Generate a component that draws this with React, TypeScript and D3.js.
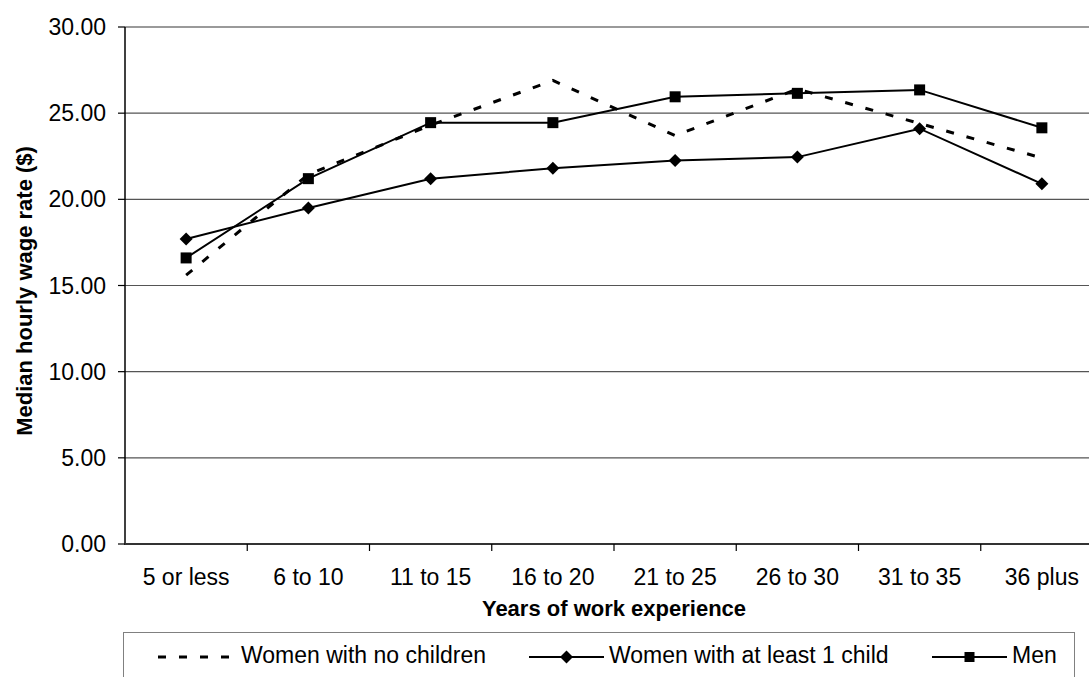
import React from "react";
import * as d3 from "d3";

const categories = ["5 or less", "6 to 10", "11 to 15", "16 to 20", "21 to 25", "26 to 30", "31 to 35", "36 plus"];
const noChildren = [15.6, 21.45, 24.3, 26.9, 23.7, 26.4, 24.4, 22.4];
const atLeastOneChild = [17.7, 19.5, 21.2, 21.8, 22.25, 22.45, 24.1, 20.9];
const men = [16.6, 21.2, 24.45, 24.45, 25.95, 26.15, 26.35, 24.15];
const yTicks = [0, 5, 10, 15, 20, 25, 30];

const W = 1089;
const H = 677;
const FONT = "'Liberation Sans', Arial, sans-serif";

const App: React.FC = () => {
  // plot area (right side runs past the picture edge)
  const left = 125;
  const right = 1103;
  const top = 27;
  const bottom = 544;

  const x = d3.scalePoint<string>().domain(categories).range([left, right]).padding(0.5);
  const band = (right - left) / categories.length;
  const y = d3.scaleLinear().domain([0, 30]).range([bottom, top]);

  const line = d3
    .line<number>()
    .x((_, i) => x(categories[i]) as number)
    .y(d => y(d));

  const diamond = (cx: number, cy: number, r: number) =>
    `M${cx},${cy - r}L${cx + r},${cy}L${cx},${cy + r}L${cx - r},${cy}Z`;

  // legend layout
  const legY = 657;
  const keyLen = 75;

  return (
    <svg width={W} height={H} style={{ position: "absolute", left: 0, top: 0, background: "#fff" }} fontFamily={FONT}>
      {/* gridlines */}
      {yTicks.filter(t => t > 0).map(t => (
        <line key={t} x1={left} x2={right} y1={y(t)} y2={y(t)} stroke={t === 30 ? "#9a9a9a" : "#555"} strokeWidth={t === 30 ? 2 : 1.2} />
      ))}
      {/* y axis */}
      <line x1={left} x2={left} y1={top} y2={bottom + 1} stroke="#000" strokeWidth={1.5} />
      {yTicks.map(t => (
        <g key={t}>
          <line x1={left - 7} x2={left} y1={y(t)} y2={y(t)} stroke="#000" strokeWidth={1.2} />
          <text x={106} y={y(t)} dy="0.35em" textAnchor="end" fontSize={23} fill="#000">
            {t.toFixed(2)}
          </text>
        </g>
      ))}
      {/* x axis */}
      <line x1={left} x2={right} y1={bottom} y2={bottom} stroke="#333" strokeWidth={2} />
      {categories.map((c, i) => (
        <g key={c}>
          {i > 0 && <line x1={left + band * i} x2={left + band * i} y1={bottom} y2={bottom + 7} stroke="#000" strokeWidth={1.2} />}
          <text x={x(c)} y={585} textAnchor="middle" fontSize={23} fill="#000">
            {c}
          </text>
        </g>
      ))}

      {/* axis titles */}
      <text x={614} y={616} textAnchor="middle" fontSize={22} fontWeight="bold">
        Years of work experience
      </text>
      <text transform="translate(32,291) rotate(-90)" textAnchor="middle" fontSize={22} fontWeight="bold">
        Median hourly wage rate ($)
      </text>

      {/* series */}
      <path d={line(noChildren) as string} fill="none" stroke="#000" strokeWidth={3} strokeDasharray="8,13" />
      <path d={line(atLeastOneChild) as string} fill="none" stroke="#000" strokeWidth={2} />
      <path d={line(men) as string} fill="none" stroke="#000" strokeWidth={2} />
      {atLeastOneChild.map((v, i) => (
        <path key={"d" + i} d={diamond(x(categories[i]) as number, y(v), 6.5)} fill="#000" />
      ))}
      {men.map((v, i) => (
        <rect key={"s" + i} x={(x(categories[i]) as number) - 5.5} y={y(v) - 5.5} width={11} height={11} fill="#000" />
      ))}

      {/* legend */}
      <rect x={123.5} y={632.5} width={951} height={60} fill="#fff" stroke="#808080" strokeWidth={1} />
      <line x1={158} x2={158 + keyLen} y1={legY} y2={legY} stroke="#000" strokeWidth={3} strokeDasharray="8,13" />
      <text x={241} y={663} fontSize={23}>Women with no children</text>
      <line x1={529} x2={529 + keyLen} y1={legY} y2={legY} stroke="#000" strokeWidth={2} />
      <path d={diamond(529 + keyLen / 2, legY, 6.5)} fill="#000" />
      <text x={609} y={663} fontSize={23}>Women with at least 1 child</text>
      <line x1={932} x2={932 + keyLen} y1={legY} y2={legY} stroke="#000" strokeWidth={2} />
      <rect x={932 + keyLen / 2 - 5} y={legY - 5} width={10} height={10} fill="#000" />
      <text x={1012} y={663} fontSize={23}>Men</text>
    </svg>
  );
};

export default App;
